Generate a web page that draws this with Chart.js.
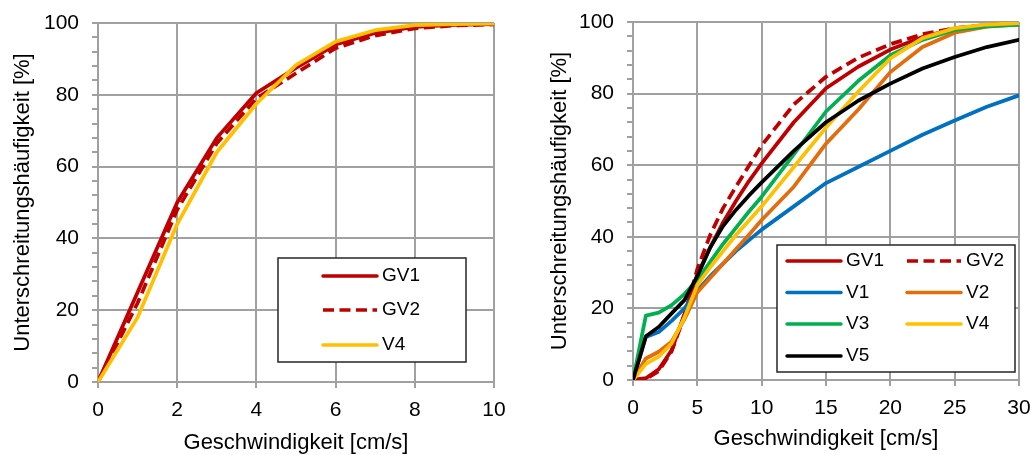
<!DOCTYPE html>
<html>
<head>
<meta charset="utf-8">
<script src="https://cdn.jsdelivr.net/npm/chart.js@4/dist/chart.umd.min.js"></script>
<style>
  body { margin: 0; background: #fff; }
  canvas { position: absolute; top: 0; }
</style>
</head>
<body>
<canvas id="left" width="520" height="455" style="left:0"></canvas>
<canvas id="right" width="511" height="455" style="left:520px"></canvas>
<script>
"use strict";

// left panel: GV1, GV2 and V4, 0-10 cm/s
var leftSpeed = [0, 1, 2, 3, 4, 5, 6, 7, 8, 9, 10];
var leftGV1 = [0, 25, 50, 68, 80.5, 87.5, 94, 97.2, 98.9, 99.5, 99.7];
var leftGV2 = [0, 22, 48, 66.5, 79, 86, 93, 96.5, 98.5, 99.3, 99.6];
var leftV4  = [0, 18, 44, 64, 77.5, 88.3, 94.8, 98, 99.4, 99.7, 99.8];

// right panel: all runs, 0-30 cm/s
var rightSpeed = [0, 1, 2, 3, 4, 5, 6, 7, 8, 9, 10, 12.5, 15, 17.5, 20, 22.5, 25, 27.5, 30];
var rightGV1 = [0, 0.5, 3, 8.3, 18.5, 29.5, 37, 44, 50, 55.5, 60.5, 72, 81.5, 87.5, 92.3, 95.8, 98.2, 99, 99.3];
var rightGV2 = [0, 0.3, 2.5, 8, 18, 31, 40.5, 48, 54, 59.8, 65.5, 77, 84.7, 90, 93.8, 96.6, 98.3, 99.2, 99.5];
var rightV1  = [0, 12, 13.4, 16.5, 20, 25, 29, 32.5, 36, 39, 42, 48.5, 55, 59.5, 64, 68.5, 72.5, 76.3, 79.5];
var rightV2  = [0, 6, 7.9, 10.7, 17, 24.5, 28.5, 32.5, 36.5, 40.5, 44.7, 54, 66, 75.5, 86, 93, 97, 98.7, 99.3];
var rightV3  = [0, 18, 18.8, 20.9, 24, 28, 33, 38, 42.5, 47, 51.2, 63, 75, 83.5, 90.7, 95, 97.8, 98.8, 99.3];
var rightV4  = [0, 4.5, 6.5, 10.2, 17.5, 26.5, 31.5, 36, 40.5, 44.5, 48.5, 59.5, 70.5, 80.5, 89.8, 95.5, 98.3, 99.3, 99.7];
var rightV5  = [0, 12.2, 14.8, 18.6, 22.3, 29, 37, 43, 47.5, 51.5, 55.2, 64, 72, 78, 82.8, 87, 90.2, 93, 95];

var yMajor = [0, 20, 40, 60, 80, 100];
var yMinorStep = 4;
var leftXTicks = [0, 2, 4, 6, 8, 10];
var rightXTicks = [0, 5, 10, 15, 20, 25, 30];

var GRID = '#a0a0a0';
var FONT = '"Liberation Sans", Arial, sans-serif';
var RED = '#c00000', BLUE = '#0070c0', ORANGE = '#e46c0a',
    GREEN = '#00b050', YELLOW = '#ffc000', BLACK = '#000000';

function points(xs, ys) {
    return xs.map(function(x, i) { return {x: x, y: ys[i]}; });
}

function series(label, xs, ys, color, dashed, i) {
    return {
        label: label,
        data: points(xs, ys),
        borderColor: color,
        backgroundColor: color,
        borderWidth: 3.75,
        borderDash: dashed ? [11, 5.5] : [],
        borderCapStyle: dashed ? 'butt' : 'round',
        borderJoinStyle: 'round',
        pointRadius: 0,
        tension: 0,
        fill: false,
        order: -i  // later series on top
    };
}

// framed legend drawn inside the plot
var boxLegend = {
    id: 'boxLegend',
    afterDraw: function(chart, args, o) {
        var ctx = chart.ctx;
        ctx.save();
        ctx.fillStyle = '#fff';
        ctx.fillRect(o.left, o.top, o.width, o.height);
        ctx.strokeStyle = '#262626';
        ctx.lineWidth = 1.5;
        ctx.strokeRect(o.left, o.top, o.width, o.height);
        ctx.font = '19px ' + FONT;
        ctx.textBaseline = 'middle';
        ctx.textAlign = 'left';
        chart.data.datasets.forEach(function(ds, i) {
            var x = o.cols[i % o.cols.length];
            var y = o.rows[Math.floor(i / o.cols.length)];
            ctx.beginPath();
            ctx.strokeStyle = ds.borderColor;
            ctx.lineWidth = 3.5;
            ctx.lineCap = ds.borderCapStyle;
            ctx.setLineDash(ds.borderDash);
            ctx.moveTo(x, y);
            ctx.lineTo(x + o.lineLength, y);
            ctx.stroke();
            ctx.setLineDash([]);
            ctx.fillStyle = '#000';
            ctx.fillText(ds.label, x + o.lineLength + 5, y);
        });
        ctx.restore();
    }
};

function makeScales(xMax, xTicks, yWidth, xHeight, yTitlePad, xTitlePad) {
    return {
        x: {
            type: 'linear',
            min: 0,
            max: xMax,
            afterBuildTicks: function(s) {
                s.ticks = xTicks.map(function(v) { return {value: v}; });
            },
            afterFit: function(s) {
                s.height = xHeight;
                s.paddingLeft = 0;
                s.paddingRight = 0;
            },
            ticks: {font: {family: FONT, size: 21}, color: '#000', padding: 10, autoSkip: false, maxRotation: 0},
            grid: {color: GRID, lineWidth: 2, tickLength: 6, tickColor: GRID},
            border: {color: GRID, width: 2},
            title: {
                display: true,
                text: 'Geschwindigkeit [cm/s]',
                color: '#000',
                font: {family: FONT, size: 22, lineHeight: 1.1},
                padding: {top: 0, bottom: xTitlePad}
            }
        },
        y: {
            type: 'linear',
            min: 0,
            max: 100,
            afterBuildTicks: function(s) {
                s.ticks = [];
                for (var v = 0; v <= 100; v += yMinorStep) s.ticks.push({value: v});
            },
            afterFit: function(s) {
                s.width = yWidth;
                s.paddingTop = 0;
                s.paddingBottom = 0;
            },
            ticks: {
                font: {family: FONT, size: 21},
                color: '#000',
                padding: 13,
                autoSkip: false,
                callback: function(v) { return yMajor.indexOf(v) >= 0 ? String(v) : ''; }
            },
            grid: {
                color: function(c) {
                    return c.tick && yMajor.indexOf(c.tick.value) >= 0 ? GRID : 'rgba(0,0,0,0)';
                },
                tickColor: GRID,
                lineWidth: 2,
                tickLength: 6
            },
            border: {color: GRID, width: 2},
            title: {
                display: true,
                text: 'Unterschreitungshäufigkeit [%]',
                color: '#000',
                font: {family: FONT, size: 22, lineHeight: 1.1},
                padding: {top: yTitlePad, bottom: 0}
            }
        }
    };
}

new Chart(document.getElementById('left'), {
    type: 'line',
    data: {
        datasets: [
            series('GV1', leftSpeed, leftGV1, RED, false, 0),
            series('GV2', leftSpeed, leftGV2, RED, true, 1),
            series('V4', leftSpeed, leftV4, YELLOW, false, 2)
        ]
    },
    options: {
        responsive: false,
        animation: false,
        layout: {padding: {top: 23, right: 26, left: 0, bottom: 0}},
        scales: makeScales(10, leftXTicks, 98, 73, 11, 0),
        plugins: {
            legend: {display: false},
            tooltip: {enabled: false},
            boxLegend: {left: 278, top: 258, width: 188, height: 104,
                        cols: [323], rows: [276, 310, 345], lineLength: 54}
        }
    },
    plugins: [boxLegend]
});

new Chart(document.getElementById('right'), {
    type: 'line',
    data: {
        datasets: [
            series('GV1', rightSpeed, rightGV1, RED, false, 0),
            series('GV2', rightSpeed, rightGV2, RED, true, 1),
            series('V1', rightSpeed, rightV1, BLUE, false, 2),
            series('V2', rightSpeed, rightV2, ORANGE, false, 3),
            series('V3', rightSpeed, rightV3, GREEN, false, 4),
            series('V4', rightSpeed, rightV4, YELLOW, false, 5),
            series('V5', rightSpeed, rightV5, BLACK, false, 6)
        ]
    },
    options: {
        responsive: false,
        animation: false,
        layout: {padding: {top: 22, right: 12, left: 0, bottom: 0}},
        scales: makeScales(30, rightXTicks, 113, 75, 28, 4),
        plugins: {
            legend: {display: false},
            tooltip: {enabled: false},
            boxLegend: {left: 257, top: 245, width: 238, height: 127,
                        cols: [267, 387], rows: [261, 292.5, 324, 356], lineLength: 54}
        }
    },
    plugins: [boxLegend]
});
</script>
</body>
</html>
